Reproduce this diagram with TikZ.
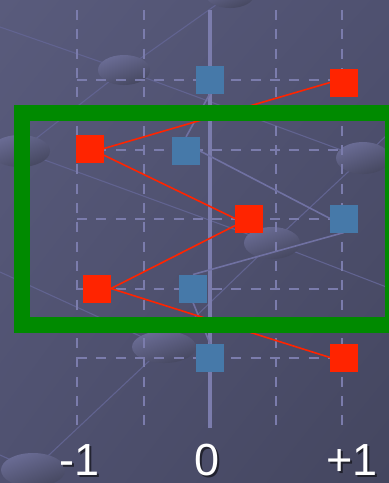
\documentclass[tikz,border=0pt]{standalone}
\usepackage{fontspec}
\setmainfont{Liberation Sans}
\usetikzlibrary{shadings}
\definecolor{bgA}{HTML}{595B7C}
\definecolor{bgM}{HTML}{4F5170}
\definecolor{bgB}{HTML}{44465F}
\definecolor{bubL}{HTML}{6B6D96}
\definecolor{bubD}{HTML}{45475F}
\definecolor{faint}{HTML}{616390}
\definecolor{gridc}{HTML}{7B7CAC}
\definecolor{bluelink}{HTML}{7071A2}
\definecolor{sqblue}{HTML}{4679A9}
\definecolor{sqred}{HTML}{FF2400}
\definecolor{boxgreen}{HTML}{008A00}
\begin{document}
\begin{tikzpicture}[x=1pt,y=-1pt,
  bubble/.style={top color=bubL,bottom color=bubD,shading angle=20},
  faintline/.style={draw=faint,line width=1.1pt},
  gridline/.style={draw=gridc,line width=2pt,dash pattern=on 10pt off 9.3pt},
  axisline/.style={draw=gridc,line width=3.5pt},
  bluesq/.style={fill=sqblue,minimum size=28pt,inner sep=0pt,outer sep=0pt},
  redsq/.style={fill=sqred,minimum size=28pt,inner sep=0pt,outer sep=0pt},
  redlink/.style={draw=sqred,line width=1.6pt},
  bluelinkst/.style={draw=bluelink,line width=1.6pt},
  frame/.style={draw=boxgreen,line width=16pt},
  lbl/.style={text=white,font=\fontsize{45}{45}\selectfont,anchor=base,inner sep=0pt},
  lblshadow/.style={text=black,opacity=0.55,font=\fontsize{45}{45}\selectfont,anchor=base,inner sep=0pt}]
\useasboundingbox (0,0) rectangle (389,483);
\clip (0,0) rectangle (389,483);
% background
\shade[upper left=bgA,upper right=bgM,lower left=bgM,lower right=bgB] (0,0) rectangle (389,483);
% background network
\coordinate (E1) at (124,70);
\coordinate (E2) at (230,-5);
\coordinate (E3) at (20,151);
\coordinate (E4) at (363,158);
\coordinate (E5) at (272,243);
\coordinate (E6) at (164,347);
\coordinate (E7) at (33,470);
\coordinate (L1) at (0,27);
\coordinate (L2) at (0,272);
\coordinate (L3) at (389,133);
\coordinate (L4) at (389,288);
\coordinate (L5) at (0,455);
\draw[faintline] (L1) -- (E1);
\draw[faintline] (E1) -- (E2);
\draw[faintline] (E1) -- (E3);
\draw[faintline] (E1) -- (E4);
\draw[faintline] (E3) -- (E5);
\draw[faintline] (E5) -- (L4);
\draw[faintline] (E4) -- (E5);
\draw[faintline] (E4) -- (L3);
\draw[faintline] (E5) -- (E6);
\draw[faintline] (E6) -- (E7);
\draw[faintline] (L2) -- (E6);
\draw[faintline] (L5) -- (E7);
\shade[bubble] (E1) ellipse [x radius=26pt,y radius=15pt];
\shade[bubble] (E2) ellipse [x radius=24pt,y radius=13pt];
\shade[bubble] (E3) ellipse [x radius=30pt,y radius=16pt];
\shade[bubble] (E4) ellipse [x radius=27pt,y radius=16pt];
\shade[bubble] (E5) ellipse [x radius=28pt,y radius=16pt];
\shade[bubble] (E6) ellipse [x radius=32pt,y radius=16pt];
\shade[bubble] (E7) ellipse [x radius=32pt,y radius=17pt];
% grid
\foreach \gx in {77,144,276,342} \draw[gridline] (\gx,10) -- (\gx,428);
\foreach \gy in {80,150,219,289,358} \draw[gridline] (77,\gy) -- (342,\gy);
\coordinate (axtop) at (210,10);
\coordinate (axbot) at (210,428);
\draw[axisline] (axtop) -- (axbot);
% square positions
\node[bluesq] (B1) at (210,79.5) {};
\node[bluesq] (B2) at (186,151) {};
\node[bluesq] (B3) at (344,218.5) {};
\node[bluesq] (B4) at (193,288.5) {};
\node[bluesq] (B5) at (210,357.5) {};
\node[redsq] (R1) at (344,82.5) {};
\node[redsq] (R2) at (90,148.5) {};
\node[redsq] (R3) at (249,218.5) {};
\node[redsq] (R4) at (97,288.5) {};
\node[redsq] (R5) at (344,357.5) {};
% links
\draw[bluelinkst] (B1.south) -- (B2.north);
\draw[bluelinkst] (B2.east) -- (B3.west);
\draw[bluelinkst] (B3.south) -- (B4.north);
\draw[bluelinkst] (B4.south) -- (B5.north);
\draw[redlink] (R2.east) -- (R1.west);
\draw[redlink] (R2) -- (R3.west);
\draw[redlink] (R3) -- (R4.east);
\draw[redlink] (R4.east) -- (R5.west);
% squares on top of links
\fill[sqblue] (B1.south west) rectangle (B1.north east);
\fill[sqblue] (B2.south west) rectangle (B2.north east);
\fill[sqblue] (B3.south west) rectangle (B3.north east);
\fill[sqblue] (B4.south west) rectangle (B4.north east);
\fill[sqblue] (B5.south west) rectangle (B5.north east);
\fill[sqred] (R1.south west) rectangle (R1.north east);
\fill[sqred] (R2.south west) rectangle (R2.north east);
\fill[sqred] (R3.south west) rectangle (R3.north east);
\fill[sqred] (R4.south west) rectangle (R4.north east);
\fill[sqred] (R5.south west) rectangle (R5.north east);
% green frame
\draw[frame] (22,113) rectangle (393,325);
% labels
\node[lblshadow] (s1) at (82,477) {-1};
\node[lblshadow] (s2) at (209,477) {0};
\node[lblshadow] (s3) at (354,477) {+1};
\node[lbl] (t1) at (80,475) {-1};
\node[lbl] (t2) at (207,475) {0};
\node[lbl] (t3) at (352,475) {+1};
\end{tikzpicture}
\end{document}
